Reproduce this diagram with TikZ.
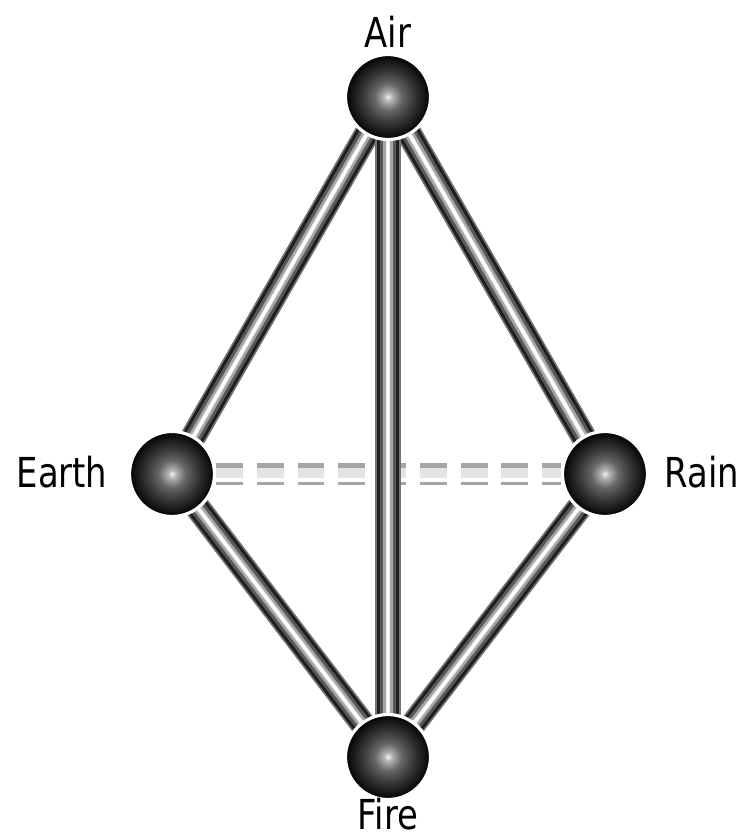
\documentclass[tikz,border=0pt]{standalone}
\usepackage{fontspec}
\setmainfont[FakeStretch=0.82]{DejaVu Sans}
\usetikzlibrary{backgrounds}
\pgfdeclareradialshading{elemball}{\pgfpoint{0bp}{0bp}}{%
  color(0bp)=(white!95!black); color(2.5bp)=(white!70!black); color(8bp)=(black!60);
  color(15bp)=(black!78); color(22bp)=(black!93); color(25bp)=(black); color(50bp)=(black)}

\tikzset{
  ball/.style={circle,minimum size=1.7cm,inner sep=0pt,shading=elemball,
    draw=white,line width=1.8pt},
  lbl/.style={font=\fontsize{23.5}{24}\selectfont,inner sep=0pt},
  gapped/.style={dash pattern=on 15.3pt off 7.9pt}
}

\begin{document}
\begin{tikzpicture}[x=0.02cm,y=-0.02cm,line cap=butt]
  \useasboundingbox (0,0) rectangle (748,838);

  % elements
  \node[ball] (air)   at (388,97)  {};
  \node[ball] (earth) at (172,474) {};
  \node[ball] (rain)  at (605,474) {};
  \node[ball] (fire)  at (388,757) {};

  \node[lbl] (airlbl)   at (388,32)  {Air};
  \node[lbl] (earthlbl) at (62,472)  {Earth};
  \node[lbl] (rainlbl)  at (702,472) {Rain};
  \node[lbl] (firelbl)  at (388,814) {Fire};

  \begin{scope}[on background layer]
    % weak link
    \draw[gapped,line width=12pt,black!35] (earth) -- (rain);
    \draw[gapped,line width=7pt,black!10] (earth) -- (rain);
    \draw[gapped,line width=2.5pt,white] ([yshift=-3.5pt]earth.east) -- ([yshift=-3.5pt]rain.west);
    % rods behind the balls
    \foreach \a/\b in {air/earth,air/rain,air/fire,earth/fire,rain/fire}
      \foreach \w/\c in {14.5/black!55,12.5/black!88,9/black!65,5.5/black!35,2.5/black!8,1.2/white}
        \draw[line width=\w pt,\c] (\a.center) -- (\b.center);
  \end{scope}
\end{tikzpicture}
\end{document}
